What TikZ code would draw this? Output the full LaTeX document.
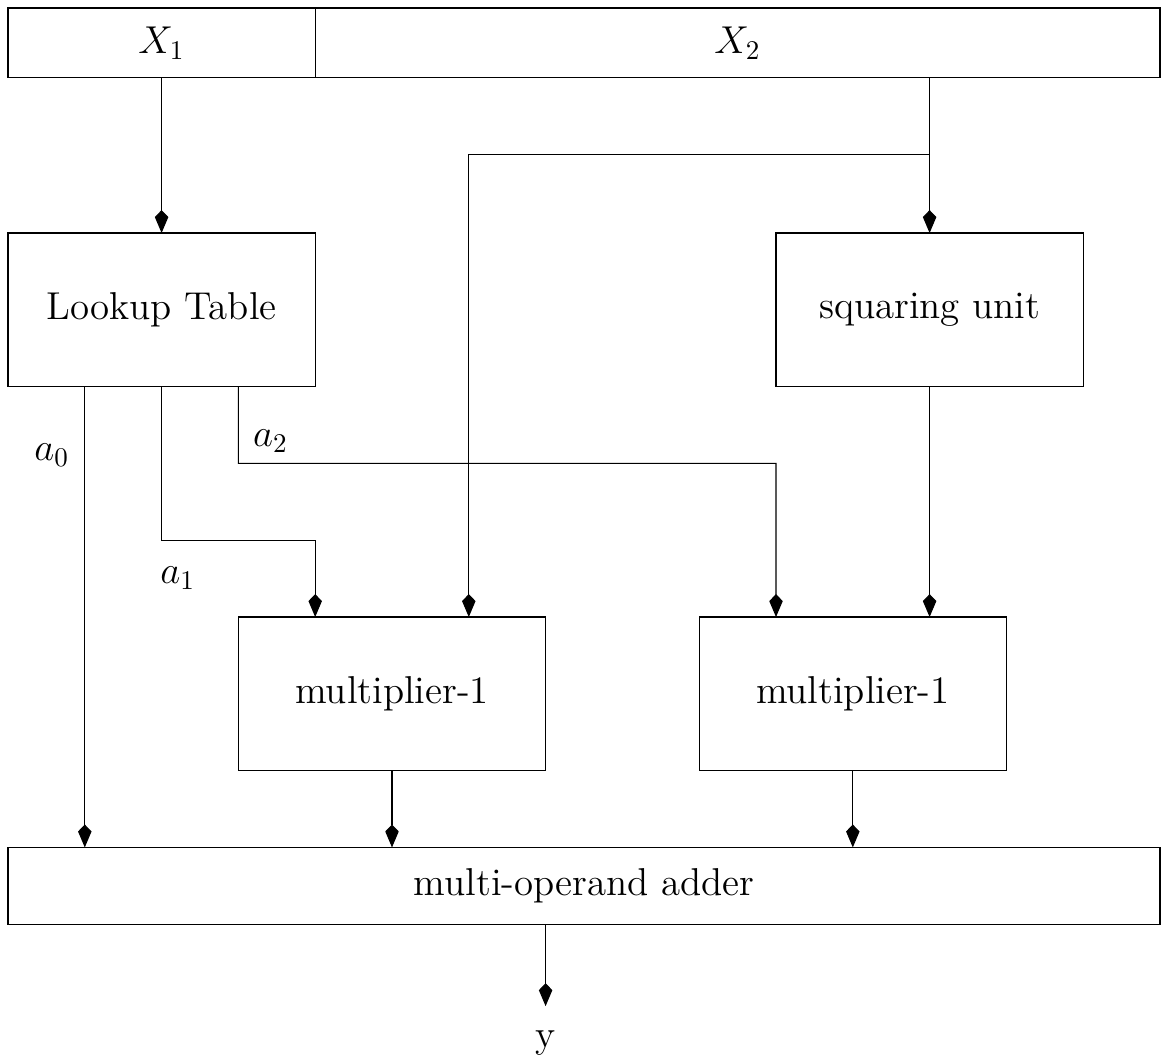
\documentclass[tikz,border=0pt]{standalone}
\usepackage{tikz}
\usetikzlibrary{shapes,calc,positioning}
\usetikzlibrary{arrows.meta,bending}

\begin{document}
\begin{tikzpicture}[text=black,node font=\Large,
    blk/.style={rectangle, draw, inner sep=0pt, outer sep=0pt,
                minimum width=4cm, minimum height=2cm},
    tip/.style={-{Kite[length=8.5pt,width=5pt,inset=2.6pt]}}]

  \useasboundingbox (-0.104,0.104) rectangle (15.026,-13.685);

  \node (X1) at (2,-0.455) [blk, minimum height=0.91cm] {$X_1$};
  \node (X2) at (9.5,-0.455) [blk, minimum width=11cm, minimum height=0.91cm] {$X_2$};

  \node (LUT) at (2,-3.93) [blk] {Lookup Table};
  \node (SQ) at (12,-3.93) [blk] {squaring unit};
  \node (M1) at (5,-8.93) [blk] {multiplier-1};
  \node (M2) at (11,-8.93) [blk] {multiplier-1};
  \node (ADD) at (7.5,-11.43) [blk, minimum width=15cm, minimum height=1cm]
        {multi-operand adder};
  \node (Y) at (7,-13.54) [anchor=base] {y};

  \node (a0) at (0.57,-5.82) {$a_0$};
  \node (a1) at (2.21,-7.42) {$a_1$};
  \node (a2) at (3.42,-5.64) {$a_2$};

  \coordinate (br) at ($(X2.south -| SQ.north)+(0,-1)$);

  \draw[tip] (X1.south) -- (LUT.north);
  \draw[tip] (X2.south -| SQ.north) -- (SQ.north);
  \draw[tip] (br) -| ($(M1.north)+(1,0)$);

  % lookup table outputs
  \draw[tip] ($(LUT.south)+(-1,0)$) -- ($(ADD.north)+(-6.5,0)$);
  \draw[tip] (LUT.south) |- ($(LUT.south)+(2,-2)$) -- ($(M1.north)+(-1,0)$);
  \draw[tip] ($(LUT.south)+(1,0)$) |- ($(SQ.south west)+(0,-1)$) -- ($(M2.north)+(-1,0)$);

  \draw[tip] (SQ.south) -- ($(M2.north)+(1,0)$);
  \draw[tip] (M1.south) -- (M1.south |- ADD.north);
  \draw[tip] (M2.south) -- (M2.south |- ADD.north);
  \draw[tip] (ADD.south -| Y) -- ($(Y.north)+(0,0.15)$);

\end{tikzpicture}
\end{document}
